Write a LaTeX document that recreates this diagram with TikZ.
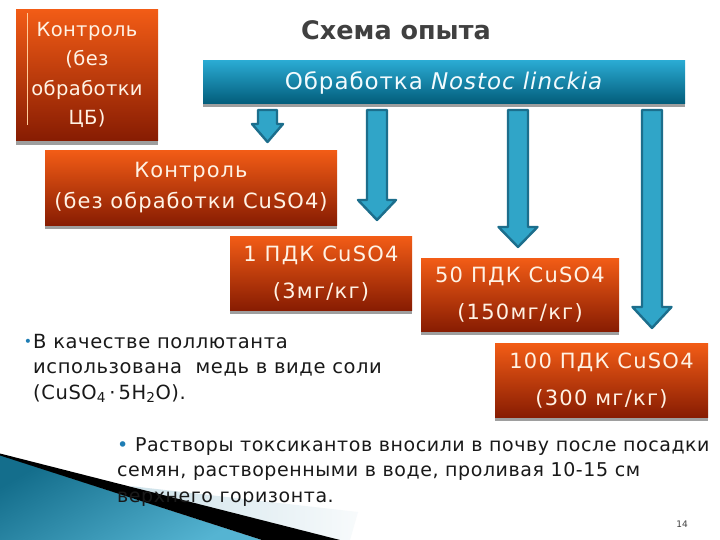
\documentclass[tikz,border=0pt]{standalone}
\usepackage{fontspec}
\setmainfont{DejaVu Sans}
\usetikzlibrary{calc}
\definecolor{obtop}{RGB}{242,92,22}
\definecolor{obbot}{RGB}{135,28,2}
\definecolor{bltop}{RGB}{42,170,210}
\definecolor{blbot}{RGB}{2,92,122}
\definecolor{arfill}{RGB}{48,165,200}
\definecolor{arline}{RGB}{28,110,140}
\definecolor{boxtext}{RGB}{255,242,228}
\definecolor{titlegray}{RGB}{64,64,64}
\definecolor{bullblue}{RGB}{30,125,180}
\definecolor{decodark}{RGB}{20,110,140}
\definecolor{decolight}{RGB}{85,180,210}
\definecolor{decopale}{RGB}{205,225,233}
\tikzset{
  obox/.style={rectangle, top color=obtop, bottom color=obbot, draw=none,
    text=boxtext, align=center, inner sep=0pt},
  shadowline/.style={fill=black!38, draw=none},
  blockarrow/.style={fill=arfill, draw=arline, line width=2.4pt, line join=round},
  bodytext/.style={text=black!90, align=left, anchor=west, inner sep=0pt,
    font=\fontsize{19}{25.5}\selectfont\addfontfeatures{LetterSpace=3}},
}
\newcommand{\myarrow}[6]{% x, ytop, yhead, ytip, shaft half, head half
  \draw[blockarrow] (#1-#5,#2) -- (#1+#5,#2) -- (#1+#5,#3) -- (#1+#6,#3)
    -- (#1,#4) -- (#1-#6,#3) -- (#1-#5,#3) -- cycle;}
\begin{document}
\begin{tikzpicture}[x=1pt,y=-1pt]
\useasboundingbox (0,0) rectangle (720,540);
\fill[white] (0,0) rectangle (720,540);

% bottom-left decoration
\shade[left color=decopale, right color=white!85!decopale]
  (130,486) -- (358,512) -- (350,540) -- (300,540) -- cycle;
\shade[top color=decodark, bottom color=decolight, shading angle=30]
  (0,455) -- (262,540) -- (0,540) -- cycle;
\fill[black] (0,453.5) -- (340,540) -- (262,540) -- (0,455.5) -- cycle;

% title
\node[font=\bfseries\fontsize{25.5}{30}\selectfont, text=titlegray] (title) at (396,30) {Схема опыта};

% control box 1
\fill[shadowline] (16,139) rectangle (158,145);
\node[obox, minimum width=142pt, minimum height=131pt,
  font=\fontsize{19.5}{29.5}\selectfont\addfontfeatures{LetterSpace=2}] (ctrl1) at (87,75)
  {Контроль\\(без\\обработки\\ЦБ)};
\draw[orange!40!white, line width=0.6pt] (27,13) -- (27,125);

% blue bar
\fill[shadowline] (203,102) rectangle (685,107);
\node[rectangle, top color=bltop, bottom color=blbot, minimum width=482pt,
  minimum height=43pt, inner sep=0pt, text=white!95!cyan,
  font=\fontsize{23}{27}\selectfont\addfontfeatures{LetterSpace=4}] (bar) at (444,82.5)
  {Обработка \textit{Nostoc linckia}};

% control box 2
\fill[shadowline] (45,224) rectangle (337,229);
\node[obox, minimum width=292pt, minimum height=75pt,
  font=\fontsize{21}{31}\selectfont\addfontfeatures{LetterSpace=5}] (ctrl2) at (191,188)
  {Контроль\\(без обработки CuSO4)};

% PDK boxes
\tikzset{pdkfont/.style={font=\fontsize{21}{37}\selectfont\addfontfeatures{LetterSpace=6}}}
\fill[shadowline] (230,309) rectangle (412,314);
\node[obox, pdkfont, minimum width=182pt, minimum height=74pt] (p1) at (321,273.5)
  {1 ПДК CuSO4\\(3мг/кг)};
\fill[shadowline] (421,330) rectangle (619,335);
\node[obox, pdkfont, minimum width=198pt, minimum height=73pt] (p50) at (520,295)
  {50 ПДК CuSO4\\(150мг/кг)};
\fill[shadowline] (495,416) rectangle (708,421);
\node[obox, pdkfont, minimum width=213pt, minimum height=74pt] (p100) at (601.5,380.5)
  {100 ПДК CuSO4\\(300 мг/кг)};

% block arrows
\myarrow{267.5}{110}{124}{142}{9.5}{15.5}
\myarrow{377}{110}{200}{220}{10}{19}
\myarrow{518}{110}{227}{247}{10}{19.5}
\myarrow{652}{110}{307}{328}{10}{19.5}

% left text
\node[bodytext, font=\fontsize{19.5}{25.5}\selectfont\addfontfeatures{LetterSpace=3}] (note1) at (33,368)
  {В качестве поллютанта\\
   использована \ медь в виде соли\\
   (CuSO\textsubscript{4}\,·\,5H\textsubscript{2}O).};
\node[text=bullblue, inner sep=0pt, font=\fontsize{14}{14}\selectfont] (b1) at (28,343) {•};

% bottom text
\node[bodytext] (note2) at (117,472)
  {{\color{bullblue}•} Растворы токсикантов вносили в почву после посадки\\
   семян, растворенными в воде, проливая 10-15 см\\
   верхнего горизонта.};

% page number
\node[font=\fontsize{9}{10}\selectfont, text=black!75] (pg) at (682,524) {14};
\end{tikzpicture}
\end{document}
